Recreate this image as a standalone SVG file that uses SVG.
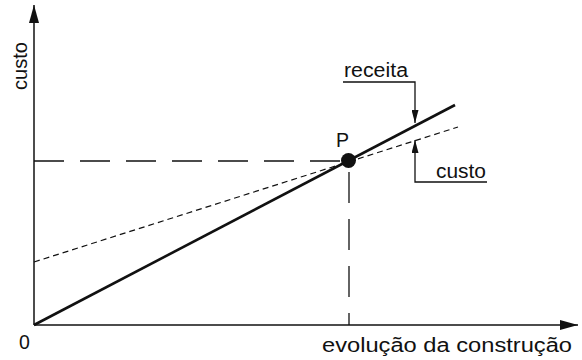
<svg xmlns="http://www.w3.org/2000/svg" width="582" height="360" viewBox="0 0 582 360">
<defs>
<marker id="bigArrow" markerWidth="18" markerHeight="10" refX="18" refY="5" orient="auto" markerUnits="userSpaceOnUse">
<path d="M0,0 L18,5 L0,10 Z" fill="#111"/>
</marker>
<marker id="smallArrow" markerWidth="13" markerHeight="7" refX="13" refY="3.5" orient="auto" markerUnits="userSpaceOnUse">
<path d="M0,0 L13,3.5 L0,7 Z" fill="#111"/>
</marker>
</defs>
<style>
text{font-family:"Liberation Sans",Arial,sans-serif;font-size:19.5px;fill:#111}
.axis{stroke:#111;stroke-width:1.5;fill:none}
.solid{stroke:#111;stroke-width:2.6;fill:none}
.fine{stroke:#111;stroke-width:1.2;fill:none;stroke-dasharray:6 4}
.long{stroke:#111;stroke-width:1.3;fill:none}
.lbl{stroke:#111;stroke-width:1.3;fill:none}
</style>
<rect width="582" height="360" fill="#fff"/>
<g id="axes">
<line class="axis" x1="34" y1="325" x2="34" y2="5" marker-end="url(#bigArrow)"/>
<line class="axis" x1="34" y1="325" x2="578" y2="325" marker-end="url(#bigArrow)"/>
<text transform="translate(27,90) rotate(-90)" textLength="48" lengthAdjust="spacingAndGlyphs">custo</text>
<text x="19" y="349">0</text>
<text x="322" y="352" textLength="250" lengthAdjust="spacingAndGlyphs">evolução da construção</text>
</g>
<g id="connectors">
<line class="solid" x1="34" y1="325" x2="455" y2="105"/>
<line class="fine" x1="34" y1="262" x2="458" y2="127"/>
<line class="long" x1="34" y1="161" x2="342" y2="161" stroke-dasharray="30 16"/>
<line class="long" x1="349" y1="172" x2="349" y2="325" stroke-dasharray="31 16"/>
<polyline class="lbl" points="343,82 415,82 415,123" marker-end="url(#smallArrow)"/>
<polyline class="lbl" points="487,182 415,182 415,140" marker-end="url(#smallArrow)"/>
</g>
<g id="P">
<circle cx="348.5" cy="160.5" r="7.5" fill="#111"/>
<text x="336" y="147">P</text>
</g>
<g id="receita">
<text x="344" y="77" textLength="64" lengthAdjust="spacingAndGlyphs">receita</text>
</g>
<g id="custo">
<text x="436" y="178" textLength="50" lengthAdjust="spacingAndGlyphs">custo</text>
</g>
</svg>
